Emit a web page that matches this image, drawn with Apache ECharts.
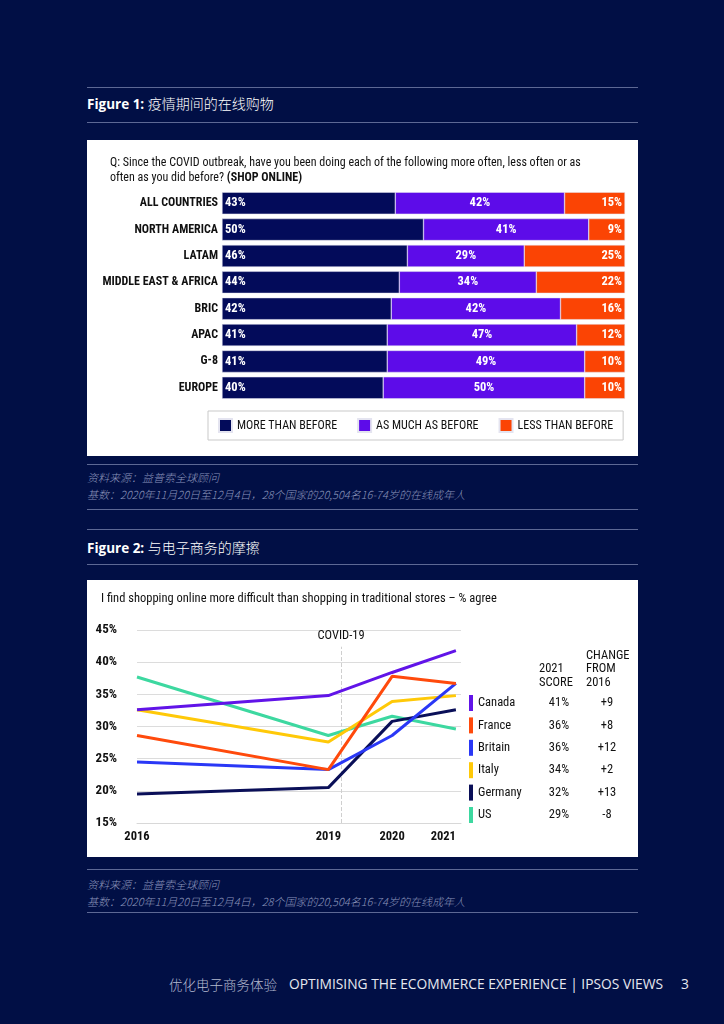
<!DOCTYPE html>
<html><head><meta charset="utf-8">
<script src="https://cdn.jsdelivr.net/npm/echarts@6/dist/echarts.min.js"></script>
<style>
html,body{margin:0;padding:0;}
body{width:724px;height:1024px;background:#010f45;position:relative;overflow:hidden;font-family:'Open Sans','Noto Sans CJK SC',sans-serif;}
.hl{position:absolute;left:87px;width:551px;height:1px;background:#5d6894;}
.fig{position:absolute;left:87px;color:#fff;font-size:13.5px;line-height:20px;white-space:nowrap;}
.fig b{font-weight:700;}
.fig span{font-family:'Noto Sans CJK SC',sans-serif;font-size:14px;font-weight:300;}
.panel{position:absolute;left:87px;width:551px;background:#fff;}
.src{position:absolute;left:87px;color:#8c95bb;font-size:11px;font-style:italic;font-family:'Noto Sans CJK SC',sans-serif;font-weight:300;white-space:nowrap;line-height:14px;}
.foot{position:absolute;top:975px;font-size:13.8px;color:#e6e8f0;white-space:nowrap;line-height:18px;}
.foot.cn{font-family:'Noto Sans CJK SC',sans-serif;color:#b5bad0;font-weight:300;font-size:13.5px;}
</style></head>
<body>
<div class="hl" style="top:87px"></div>
<div class="fig" style="top:93px"><b>Figure 1:</b> <span>疫情期间的在线购物</span></div>
<div class="hl" style="top:122px"></div>
<div class="panel" id="c1" style="top:140px;height:316px"></div>
<div class="hl" style="top:464px"></div>
<div class="src" style="top:470px">资料来源：益普索全球顾问</div>
<div class="src" style="top:487px">基数：2020年11月20日至12月4日，28个国家的20,504名16-74岁的在线成年人</div>
<div class="hl" style="top:509px"></div>
<div class="hl" style="top:529px"></div>
<div class="fig" style="top:537px"><b>Figure 2:</b> <span>与电子商务的摩擦</span></div>
<div class="hl" style="top:564px"></div>
<div class="panel" id="c2" style="top:580px;height:277px"></div>
<div class="hl" style="top:869px"></div>
<div class="src" style="top:877px">资料来源：益普索全球顾问</div>
<div class="src" style="top:894px">基数：2020年11月20日至12月4日，28个国家的20,504名16-74岁的在线成年人</div>
<div class="hl" style="top:912px"></div>
<div class="foot cn" style="left:169px">优化电子商务体验</div>
<div class="foot" style="left:289px">OPTIMISING THE ECOMMERCE EXPERIENCE | IPSOS VIEWS</div>
<div class="foot" style="left:681px">3</div>
<script>
// ---- Figure 1 data ----
const barCategories = ['ALL COUNTRIES','NORTH AMERICA','LATAM','MIDDLE EAST & AFRICA','BRIC','APAC','G-8','EUROPE'];
const moreThanBefore = [43,50,46,44,42,41,41,40];
const asMuchAsBefore = [42,41,29,34,42,47,49,50];
const lessThanBefore = [15,9,25,22,16,12,10,10];
const barSeriesNames = ['MORE THAN BEFORE','AS MUCH AS BEFORE','LESS THAN BEFORE'];

// ---- Figure 2 data ----
const years = [2016, 2019, 2020, 2021];
const countries = ['Canada','France','Britain','Italy','Germany','US'];
const canada  = [32.6, 34.8, 38.4, 41.8];
const france  = [28.6, 23.3, 37.8, 36.7];
const britain = [24.5, 23.3, 28.6, 36.7];
const italy   = [32.6, 27.6, 33.9, 34.8];
const germany = [19.5, 20.5, 30.8, 32.6];
const us      = [37.7, 28.6, 31.6, 29.6];
const score2021 = ['41%','36%','36%','34%','32%','29%'];
const change2016 = ['+9','+8','+12','+2','+13','-8'];
const yTickValues = [15,20,25,30,35,40,45];
const xTickYears = [2016, 2019, 2020, 2021];
const covidYear = 2019.2;

const NARROW = "'Liberation Sans Narrow','Arial Narrow','Roboto Condensed',sans-serif";
const barColors = ['#030b5a','#5d0ce9','#fb4404'];
const lineColors = ['#6114e8','#ff4a0c','#2a38f6','#ffc908','#0a0f58','#3dd8a0'];

const c1 = echarts.init(document.getElementById('c1'));
const barLabelPos = ['insideLeft','inside','insideRight'];
const barData = [moreThanBefore, asMuchAsBefore, lessThanBefore];
c1.setOption({
  animation:false,
  textStyle:{fontFamily:NARROW},
  title:{
    left:18, top:10,
    text:'Q: Since the COVID outbreak, have you been doing each of the following more often, less often or as\noften as you did before? {b|(SHOP ONLINE)}',
    textStyle:{fontFamily:NARROW,fontSize:12,fontWeight:'normal',color:'#111',lineHeight:15,
      rich:{b:{fontFamily:NARROW,fontSize:12,fontWeight:'bold',color:'#111',lineHeight:15}}}
  },
  legend:{
    left:121, top:271, padding:[7,10], itemGap:20, width:420,
    borderColor:'#c9c9c9', borderWidth:1,
    icon:'rect', itemWidth:13, itemHeight:13, selectedMode:false,
    textStyle:{fontFamily:NARROW,fontSize:12,color:'#111'},
    data:barSeriesNames
  },
  grid:{left:135, right:13, top:50, height:211},
  xAxis:{type:'value', min:0, max:100, show:false},
  yAxis:{type:'category', data:barCategories, inverse:true,
    axisLine:{show:false}, axisTick:{show:false},
    axisLabel:{fontFamily:NARROW,fontSize:12,fontWeight:'bold',color:'#111',margin:4}},
  series: barSeriesNames.map((n,i)=>({
    name:n, type:'bar', stack:'all', barWidth:22,
    data:barData[i],
    itemStyle:{color:barColors[i], borderColor:'#e4e4f0', borderWidth:0.5},
    label:{show:true, position:barLabelPos[i], distance:3, formatter:'{c}%',
      fontFamily:NARROW,fontSize:12.5,fontWeight:'bold',color:'#fff'}
  }))
});

const c2 = echarts.init(document.getElementById('c2'));
const lineValues = [canada, france, britain, italy, germany, us];
const lineSeries = countries.map((n,i)=>({
  name:n, type:'line', showSymbol:false, symbol:'none',
  data: years.map((y,j)=>[y, lineValues[i][j]]),
  lineStyle:{width:3, color:lineColors[i]},
  itemStyle:{color:lineColors[i]},
  z: 10-i
}));
lineSeries.push({
  type:'line', data:[], silent:true,
  markLine:{silent:true, symbol:'none',
    lineStyle:{type:'dashed', color:'#cfcfcf', width:1},
    label:{show:true, position:'end', formatter:'COVID-19', fontFamily:NARROW, fontSize:12.5, color:'#111', distance:4},
    data:[[{coord:[covidYear,15]},{coord:[covidYear,42.4]}]]
  }
});
c2.setOption({
  animation:false,
  textStyle:{fontFamily:NARROW},
  title:{left:9, top:7, text:'I find shopping online more difficult than shopping in traditional stores – % agree',
    textStyle:{fontFamily:NARROW,fontSize:12.5,fontWeight:'normal',color:'#111'}},
  grid:{left:50, right:177, top:50, bottom:34},
  xAxis:{type:'value', min:2016, max:2021.08,
    axisLine:{show:true, lineStyle:{color:'#d8d8d8'}}, axisTick:{show:false}, splitLine:{show:false},
    axisLabel:{customValues:xTickYears, fontFamily:NARROW,fontSize:12.5,fontWeight:'bold',color:'#111',margin:7,
      alignMaxLabel:'right', formatter:v=>String(v)}},
  yAxis:{type:'value', min:15, max:45, interval:5,
    axisLine:{show:false}, axisTick:{show:false},
    splitLine:{lineStyle:{color:'#dcdcdc'}},
    axisLabel:{customValues:yTickValues, fontFamily:NARROW,fontSize:13,fontWeight:'bold',color:'#111',margin:20,
      padding:[0,0,10,0], formatter:'{value}%'}},
  legend:{
    orient:'vertical', left:382, top:115, itemGap:6.4, padding:0,
    icon:'rect', itemWidth:4, itemHeight:16, selectedMode:false,
    data:countries,
    formatter:name=>{const i=countries.indexOf(name);return `{n|${name}}{s|${score2021[i]}}{c|${change2016[i]}}`;},
    textStyle:{fontFamily:NARROW,fontSize:12.5,color:'#111',
      rich:{n:{width:57,fontFamily:NARROW,fontSize:12.5,color:'#111'},
            s:{width:48,align:'center',fontFamily:NARROW,fontSize:12.5,color:'#111'},
            c:{width:48,align:'center',fontFamily:NARROW,fontSize:12.5,color:'#111'}}}
  },
  graphic:[
    {type:'text', left:452, top:82, style:{text:'2021\nSCORE', align:'center', fontFamily:NARROW, fontSize:12.5, lineHeight:14, fill:'#111'}},
    {type:'text', left:499, top:69, style:{text:'CHANGE\nFROM\n2016', align:'center', fontFamily:NARROW, fontSize:12.5, lineHeight:13.5, fill:'#111'}}
  ],
  series:lineSeries
});
</script>
</body></html>
